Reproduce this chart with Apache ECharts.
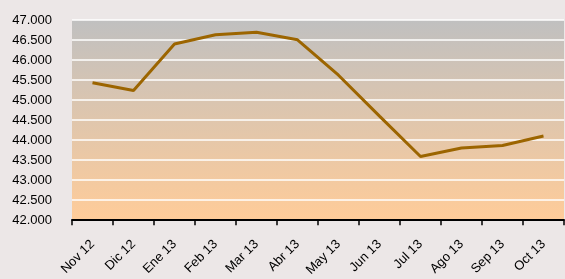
<!DOCTYPE html>
<html><head><meta charset="utf-8">
<script src="https://cdn.jsdelivr.net/npm/echarts@6/dist/echarts.min.js"></script>
<style>html,body{margin:0;padding:0;background:#ece7e7;}#c{width:565px;height:279px;}</style>
</head><body><div id="c"></div>
<script>
const categories = ['Nov 12','Dic 12','Ene 13','Feb 13','Mar 13','Abr 13','May 13','Jun 13','Jul 13','Ago 13','Sep 13','Oct 13'];
const values = [45430, 45240, 46400, 46630, 46695, 46505, 45620, 44600, 43590, 43800, 43865, 44100];
const yMin = 42000, yMax = 47000, yStep = 500;

const chart = echarts.init(document.getElementById('c'), null, {renderer:'canvas'});
chart.setOption({
  backgroundColor: '#ece7e7',
  animation: false,
  grid: {
    left: 72, right: 1, top: 20, bottom: 56, show: true, borderWidth: 0,
    backgroundColor: new echarts.graphic.LinearGradient(0,0,0,1,[
      {offset:0, color:'#c0c0c0'},
      {offset:1, color:'#ffcc99'}
    ])
  },
  xAxis: {
    type: 'category', data: categories, boundaryGap: true,
    axisLine: {lineStyle:{color:'#000', width:2}},
    axisTick: {show:true, length:5, lineStyle:{color:'#000', width:1.5}},
    axisLabel: {rotate:45, color:'#000', fontFamily:'Liberation Sans, Arial', fontSize:13, margin:22, interval:0},
    splitLine: {show:false}
  },
  yAxis: {
    type: 'value', min: yMin, max: yMax, interval: yStep,
    axisLine: {show:false}, axisTick: {show:false},
    axisLabel: {color:'#000', fontFamily:'Liberation Sans, Arial', fontSize:13, margin:20,
      formatter: v => (v/1000).toFixed(3)},
    splitLine: {lineStyle:{color:'#ffffff', width:1.5}}
  },
  series: [{
    type: 'line', data: values, symbol: 'none',
    lineStyle: {color:'#9c6500', width:3}
  }]
});
</script></body></html>
